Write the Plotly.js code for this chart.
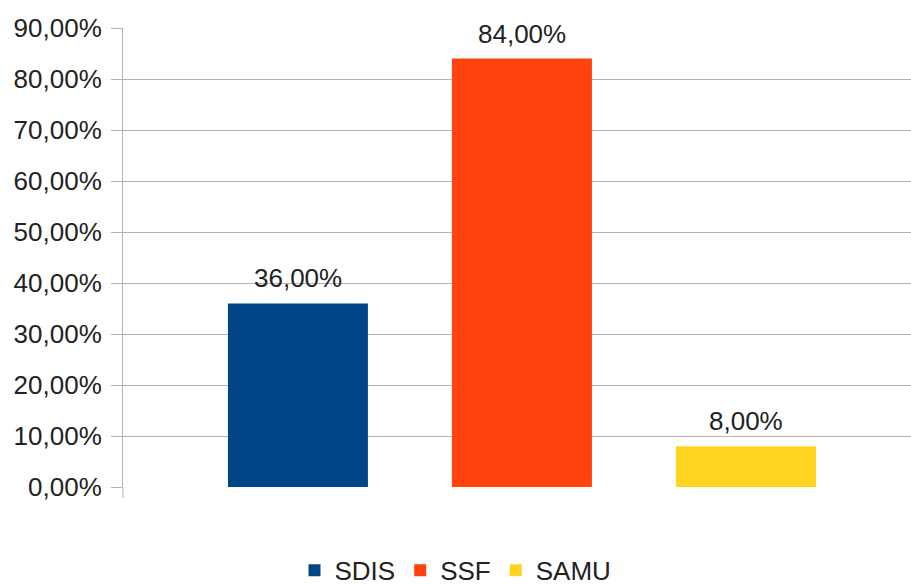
<!DOCTYPE html>
<html>
<head>
<meta charset="utf-8">
<script src="https://cdn.plot.ly/plotly-3.0.1.min.js"></script>
<style>html,body{margin:0;padding:0;background:#fff;}#chart{width:911px;height:585px;}</style>
</head>
<body>
<div id="chart"></div>
<script>
const seriesNames = ["SDIS", "SSF", "SAMU"];
const seriesValues = [0.36, 0.84, 0.08];
const seriesColors = ["#004586", "#ff420e", "#ffd320"];
const yTickValues = [0, 0.1, 0.2, 0.3, 0.4, 0.5, 0.6, 0.7, 0.8, 0.9];

const FONT = "Liberation Sans, Arial, sans-serif";
const TXT = "#222222";

const traces = seriesNames.map((n, i) => ({
  type: "bar",
  name: n,
  x: [n],
  y: [seriesValues[i]],
  width: 0.625,
  marker: {color: seriesColors[i], line: {width: 0}},
  hoverinfo: "skip"
}));

const annotations = seriesNames.map((n, i) => ({
  x: n, y: seriesValues[i], xref: "x", yref: "y",
  text: (seriesValues[i] * 100).toFixed(2).replace(".", ",") + "%",
  showarrow: false, yanchor: "bottom", yshift: 8,
  font: {family: FONT, size: 26, color: TXT}
}));

const layout = {
  width: 911, height: 585,
  margin: {l: 123, r: 0, t: 28, b: 98, pad: 0},
  paper_bgcolor: "#ffffff", plot_bgcolor: "#ffffff",
  separators: ", ",
  barmode: "overlay",
  showlegend: true,
  legend: {
    orientation: "h", xref: "container", yref: "container",
    x: 0.5, xanchor: "center", y: 0.025, yanchor: "middle",
    font: {family: FONT, size: 26, color: TXT},
    itemwidth: 30, tracegroupgap: 0, borderwidth: 0
  },
  xaxis: {
    type: "category", categoryorder: "array", categoryarray: seriesNames,
    range: [-0.781, 2.737], showticklabels: false, showgrid: false,
    zeroline: false, showline: false, ticks: "", fixedrange: true
  },
  yaxis: {
    range: [0, 0.9], tickvals: yTickValues, tickformat: ".2%",
    showgrid: true, gridcolor: "#b3b3b3", gridwidth: 1,
    zeroline: false, showline: true, linecolor: "#b3b3b3", linewidth: 1,
    ticks: "outside", ticklen: 11, tickcolor: "#b3b3b3", tickwidth: 1,
    ticklabelstandoff: 4,
    tickfont: {family: FONT, size: 26, color: TXT}, fixedrange: true
  },
  shapes: [{
    type: "line", xref: "paper", yref: "paper", x0: 0, x1: 0,
    ysizemode: "pixel", yanchor: 0, y0: 0, y1: -11,
    line: {color: "#b3b3b3", width: 1}
  }],
  annotations: annotations
};

Plotly.newPlot("chart", traces, layout, {displayModeBar: false, staticPlot: true});
</script>
</body>
</html>
